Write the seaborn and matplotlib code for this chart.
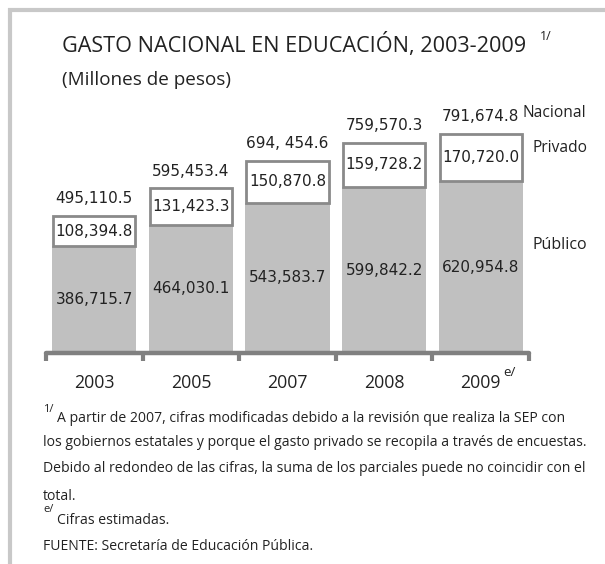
import numpy as np
import pandas as pd
import seaborn as sns
import matplotlib.pyplot as plt

# datos (millones de pesos)
years = ["2003", "2005", "2007", "2008", "2009"]
publico = [386715.7, 464030.1, 543583.7, 599842.2, 620954.8]
privado = [108394.8, 131423.3, 150870.8, 159728.2, 170720.0]
nacional = [495110.5, 595453.4, 694454.6, 759570.3, 791674.8]
lbl_publico = ["386,715.7", "464,030.1", "543,583.7", "599,842.2", "620,954.8"]
lbl_privado = ["108,394.8", "131,423.3", "150,870.8", "159,728.2", "170,720.0"]
lbl_nacional = ["495,110.5", "595,453.4", "694, 454.6", "759,570.3", "791,674.8"]

sns.set_style("white")
plt.rcParams['font.family'] = ['Open Sans', 'DejaVu Sans']

W, H = 605, 564
fig = plt.figure(figsize=(W / 100, H / 100), dpi=100)
txt_color = "#222222"
gris = "#c0c0c0"
borde = "#8a8a8a"
eje = "#808080"


def px(x, y):
    return x / W, 1 - y / H


# ejes colocados en pixeles
ax = fig.add_axes([46 / W, 1 - 353 / H, 483 / W, 249 / H])

df = pd.DataFrame({"anio": years, "publico": publico})
sns.barplot(data=df, x="anio", y="publico", color=gris, saturation=1,
            width=0.87, edgecolor="none", ax=ax, zorder=2)
pos = np.arange(len(years))
ax.bar(pos, privado, bottom=publico, width=0.85, facecolor="white",
       edgecolor=borde, linewidth=2, zorder=3)

ax.set_xlim(-0.5, len(years) - 0.5)
ax.set_ylim(0, 900000)
ax.set_xlabel("")
ax.set_ylabel("")
ax.set_yticks([])
for s in ["top", "left", "right"]:
    ax.spines[s].set_visible(False)
ax.spines["bottom"].set_color(eje)
ax.spines["bottom"].set_linewidth(3.2)
ax.spines["bottom"].set_capstyle("round")
ax.spines["bottom"].set_zorder(4)

ax.set_xticks(pos)
ax.set_xticklabels(years, fontsize=12.8, color=txt_color)
ax.tick_params(axis="x", which="major", bottom=True, length=0, pad=15)
ax.set_xticks(np.arange(-0.5, len(years)), minor=True)
ax.tick_params(axis="x", which="minor", bottom=True, length=6, width=3,
               color=eje, direction="out")

# etiquetas de valores
for i in range(len(years)):
    ax.text(i, publico[i] / 2, lbl_publico[i], ha="center", va="center",
            fontsize=11, family="DejaVu Sans", color=txt_color, zorder=5)
    ax.text(i, publico[i] + privado[i] / 2, lbl_privado[i], ha="center",
            va="center", fontsize=11, family="DejaVu Sans", color=txt_color, zorder=5)
    ax.annotate(lbl_nacional[i], (i, nacional[i]), xytext=(0, 7),
                textcoords="offset points", ha="center", va="bottom",
                fontsize=11, family="DejaVu Sans", color=txt_color)

# leyenda a la derecha
fig.text(*px(523, 113), "Nacional", fontsize=11.2, va="center", color=txt_color)
fig.text(*px(533, 148), "Privado", fontsize=11.2, va="center", color=txt_color)
fig.text(*px(533, 245), "Público", fontsize=11.5, va="center", color=txt_color)

# titulo
fig.text(*px(62, 45), "GASTO NACIONAL EN EDUCACIÓN, 2003-2009", fontsize=15.6,
         va="center", color=txt_color)
fig.text(*px(540, 37), "1/", fontsize=9, va="center", color=txt_color)
fig.text(*px(62, 80), "(Millones de pesos)", fontsize=13.6, va="center",
         color=txt_color)
fig.text(*px(503, 372), "e/", fontsize=9.5, va="center", color=txt_color)

# notas
fs = 10.05
fig.text(*px(43, 409), "1/", fontsize=8, va="center", color=txt_color)
fig.text(*px(57, 419), "A partir de 2007, cifras modificadas debido a la revisión que realiza la SEP con",
         fontsize=fs, va="center", color=txt_color)
fig.text(*px(43, 443), "los gobiernos estatales y porque el gasto privado se recopila a través de encuestas.",
         fontsize=fs, va="center", color=txt_color)
fig.text(*px(43, 468), "Debido al redondeo de las cifras, la suma de los parciales puede no coincidir con el",
         fontsize=fs, va="center", color=txt_color)
fig.text(*px(43, 496), "total.", fontsize=fs, va="center", color=txt_color)
fig.text(*px(43, 510), "e/", fontsize=8, va="center", color=txt_color)
fig.text(*px(57, 521), "Cifras estimadas.", fontsize=fs, va="center", color=txt_color)
fig.text(*px(43, 546), "FUENTE: Secretaría de Educación Pública.", fontsize=fs,
         va="center", color=txt_color)

# marco gris
marco = "#c8c8c8"
fig.add_artist(plt.Line2D([8 / W, 1], [1 - 10 / H, 1 - 10 / H], transform=fig.transFigure,
                          color=marco, linewidth=3, solid_capstyle="butt"))
fig.add_artist(plt.Line2D([10 / W, 10 / W], [1 - 8 / H, 0], transform=fig.transFigure,
                          color=marco, linewidth=3, solid_capstyle="butt"))

fig.savefig("out.png", dpi=100)
